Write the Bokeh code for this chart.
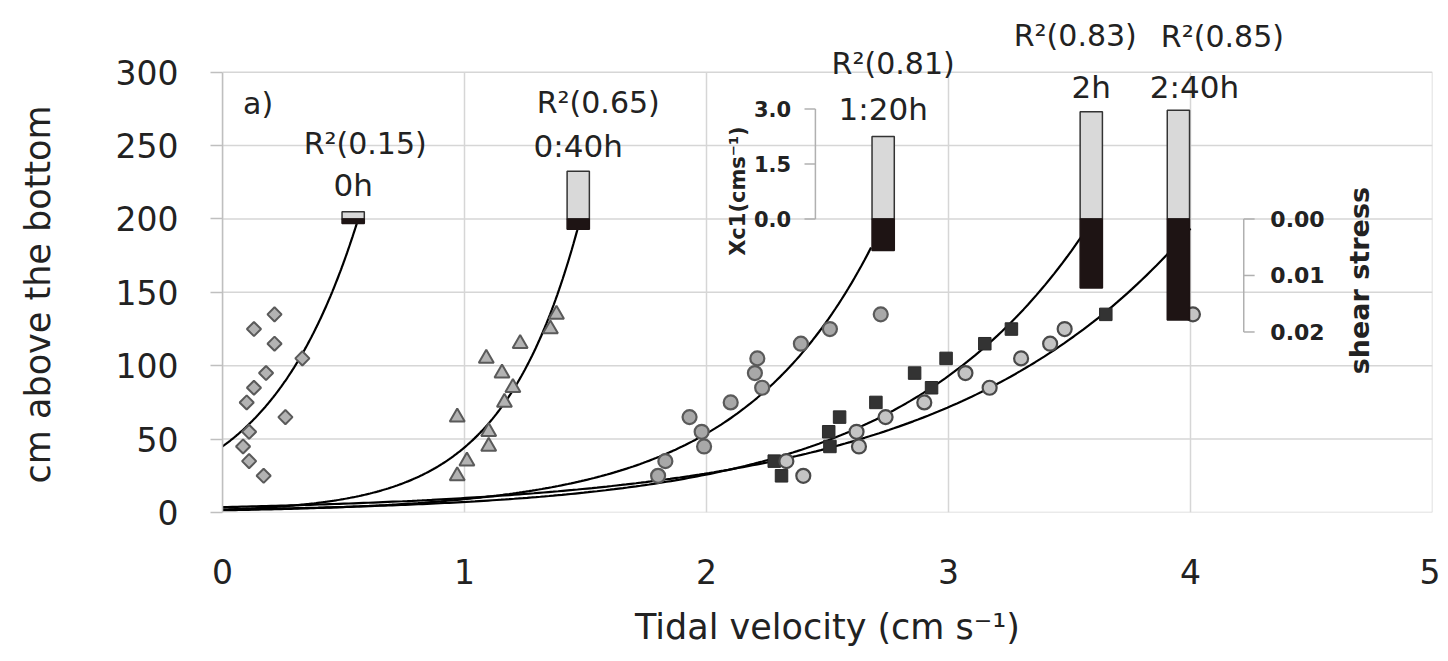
import numpy as np
from bokeh.plotting import figure
from bokeh.models import Range1d, FixedTicker, Label, Title
from bokeh.core.properties import value
from bokeh.embed import file_html
from bokeh.resources import INLINE

FONT = "DejaVu Sans"

# ---------------- data ----------------
heights = [25, 35, 45, 55, 65, 75, 85, 95, 105, 115, 125, 135]
v_0h = [0.17, 0.11, 0.085, 0.11, 0.26, 0.10, 0.13, 0.18, 0.33, 0.215, 0.13, 0.215]
v_040h = [0.97, 1.01, 1.10, 1.10, 0.97, 1.165, 1.20, 1.155, 1.09, 1.23, 1.355, 1.38]
v_120h = [1.80, 1.83, 1.99, 1.98, 1.93, 2.10, 2.23, 2.20, 2.21, 2.39, 2.51, 2.72]
v_2h = [2.31, 2.28, 2.51, 2.505, 2.55, 2.70, 2.93, 2.86, 2.99, 3.15, 3.26, 3.65]
v_240h = [2.40, 2.33, 2.63, 2.62, 2.74, 2.90, 3.17, 3.07, 3.30, 3.42, 3.48, 4.01]

times = ["0h", "0:40h", "1:20h", "2h", "2:40h"]
r2_labels = ["R\u00b2(0.15)", "R\u00b2(0.65)", "R\u00b2(0.81)", "R\u00b2(0.83)", "R\u00b2(0.85)"]
# exponential trendlines y = a*exp(b*x)
fit_a = [45.0, 1.9, 1.53, 2.0, 3.66]
fit_b = [2.66, 3.15, 1.78, 1.28, 0.992]
fit_xmax = [0.56, 1.48, 2.68, 3.58, 4.00]

# inset bars
bar_x = [0.54, 1.47, 2.73, 3.59, 3.95]
xc1 = [0.2, 1.3, 2.25, 2.92, 2.96]                 # Xc1 (cm s-1)
shear = [0.0008, 0.0018, 0.0056, 0.0122, 0.0179]   # shear stress
xc1_ticks = [0.0, 1.5, 3.0]
xc1_tick_labels = ["0.0", "1.5", "3.0"]
shear_ticks = [0.00, 0.01, 0.02]
shear_tick_labels = ["0.00", "0.01", "0.02"]

x_ticks = [0, 1, 2, 3, 4, 5]
y_ticks = [0, 50, 100, 150, 200, 250, 300]

# inset scales (data units per unit)
BASE = 200.0
XC1_SCALE = 25.0
SHEAR_SCALE = 3850.0

GRID = "#d6d6d6"
TXT = "#222222"

# ---------------- figure ----------------
p = figure(width=1440, height=655, x_range=Range1d(0, 5), y_range=Range1d(0, 340),
           output_backend="svg", toolbar_location=None,
           min_border_left=222, min_border_right=8, min_border_top=13, min_border_bottom=143)
p.outline_line_color = None
p.background_fill_color = "white"
p.xgrid.grid_line_color = None
p.ygrid.grid_line_color = None

# grid lines limited to the 0..300 data area
p.segment(x0=x_ticks, y0=[y_ticks[0]] * len(x_ticks), x1=x_ticks, y1=[y_ticks[-1]] * len(x_ticks),
          line_color=GRID, line_width=1.5)
p.segment(x0=[x_ticks[0]] * len(y_ticks), y0=y_ticks, x1=[x_ticks[-1]] * len(y_ticks), y1=y_ticks,
          line_color=GRID, line_width=1.5)

xa = p.xaxis[0]
xa.ticker = FixedTicker(ticks=x_ticks)
xa.axis_line_color = None
xa.major_tick_line_color = None
xa.minor_tick_line_color = None
xa.major_label_text_font = FONT
xa.major_label_text_font_size = "33px"
xa.major_label_text_color = TXT
xa.major_label_standoff = 40
xa.axis_label = "Tidal velocity (cm s\u207b\u00b9)"
xa.axis_label_text_font = FONT
xa.axis_label_text_font_size = "35px"
xa.axis_label_text_font_style = "normal"
xa.axis_label_text_color = TXT
xa.axis_label_standoff = 20

ya = p.yaxis[0]
ya.bounds = (0, 300)
ya.ticker = FixedTicker(ticks=y_ticks)
ya.axis_line_color = "#bfbfbf"
ya.axis_line_width = 1.5
ya.major_tick_line_color = "#bfbfbf"
ya.major_tick_line_width = 1.5
ya.major_tick_out = 12
ya.major_tick_in = 0
ya.minor_tick_line_color = None
ya.major_label_text_font = FONT
ya.major_label_text_font_size = "33px"
ya.major_label_text_color = TXT
ya.major_label_standoff = 32
# blank spacer label to push the y title outward
ya.axis_label = " "
ya.axis_label_text_font_size = "10px"
ya.axis_label_standoff = 27

# y-axis title, placed along the 0..300 part of the frame
p.add_layout(Title(text="cm above the bottom", align="left", offset=29,
                   text_font=FONT, text_font_size="35px", text_font_style="normal",
                   text_color=TXT, standoff=28), "left")

# ---------------- trendlines ----------------
for a, b, xm in zip(fit_a, fit_b, fit_xmax):
    xs = np.linspace(0, xm, 200)
    p.line(xs, a * np.exp(b * xs), line_color="black", line_width=2.2)

# ---------------- scatter ----------------
p.scatter(v_0h, heights, marker="square", angle=np.pi / 4, size=10,
          fill_color="#b3b3b3", line_color="#5a5a5a", line_width=2)
p.scatter(v_040h, heights, marker="triangle", size=15,
          fill_color="#b3b3b3", line_color="#5a5a5a", line_width=2)
p.scatter(v_120h, heights, marker="circle", size=14,
          fill_color="#a8a8a8", line_color="#5a5a5a", line_width=2.2)
p.scatter(v_2h, heights, marker="square", size=12.5,
          fill_color="#333333", line_color="#2a2a2a", line_width=1)
p.scatter(v_240h, heights, marker="circle", size=14,
          fill_color="#c4c4c4", line_color="#4a4a4a", line_width=2.2)

# ---------------- inset bars ----------------
bar_w = 0.092
xc1_top = [BASE + v * XC1_SCALE for v in xc1]
shear_bot = [BASE - v * SHEAR_SCALE for v in shear]
p.vbar(x=bar_x, width=bar_w, bottom=BASE, top=xc1_top,
       fill_color="#d9d9d9", line_color="#333333", line_width=1.5)
p.vbar(x=bar_x, width=bar_w, bottom=shear_bot, top=BASE,
       fill_color="#1e1414", line_color="#1e1414", line_width=1.5)

# Xc1 inset axis
AX1 = 2.45
tick_len = 0.045
xc1_y = [BASE + t * XC1_SCALE for t in xc1_ticks]
p.segment(x0=[AX1], y0=[xc1_y[0]], x1=[AX1], y1=[xc1_y[-1]], line_color="#b0b0b0", line_width=1.5)
p.segment(x0=[AX1 - tick_len] * len(xc1_y), y0=xc1_y, x1=[AX1] * len(xc1_y), y1=xc1_y,
          line_color="#b0b0b0", line_width=1.5)
p.text(x=[AX1 - 0.1] * len(xc1_y), y=xc1_y, text=xc1_tick_labels,
       text_font=value(FONT), text_font_size="21px", text_font_style="bold",
       text_align="right", text_baseline="middle", text_color=TXT)
p.text(x=[2.13], y=[219], text=["Xc1(cms\u207b\u00b9)"], angle=np.pi / 2,
       text_font=value(FONT), text_font_size="21px", text_font_style="bold",
       text_align="center", text_baseline="middle", text_color=TXT)

# shear stress inset axis
AX2 = 4.22
sh_y = [BASE - t * SHEAR_SCALE for t in shear_ticks]
p.segment(x0=[AX2], y0=[sh_y[0]], x1=[AX2], y1=[sh_y[-1]], line_color="#b0b0b0", line_width=1.5)
p.segment(x0=[AX2] * len(sh_y), y0=sh_y, x1=[AX2 + tick_len] * len(sh_y), y1=sh_y,
          line_color="#b0b0b0", line_width=1.5)
p.text(x=[AX2 + 0.11] * len(sh_y), y=sh_y, text=shear_tick_labels,
       text_font=value(FONT), text_font_size="22px", text_font_style="bold",
       text_align="left", text_baseline="middle", text_color=TXT)
p.text(x=[4.70], y=[158], text=["shear stress"], angle=np.pi / 2,
       text_font=value(FONT), text_font_size="27px", text_font_style="bold",
       text_align="center", text_baseline="middle", text_color=TXT)

# panel letter
p.text(x=[0.085], y=[279], text=["a)"], text_font=value(FONT), text_font_size="30px",
       text_align="left", text_baseline="middle", text_color=TXT)

# ---------------- bar labels ----------------
time_dx = [0, 0, 0, 0, 16]
r2_dx = [12, 20, 10, -16, 44]
time_dy = [27, 25, 27, 25, 23]
r2_dy = [68, 69, 73, 76, 74]
for i in range(len(times)):
    p.add_layout(Label(x=bar_x[i], y=xc1_top[i], x_offset=time_dx[i], y_offset=time_dy[i],
                       text=times[i], text_font=FONT, text_font_size="31px",
                       text_align="center", text_baseline="alphabetic", text_color=TXT))
    p.add_layout(Label(x=bar_x[i], y=xc1_top[i], x_offset=r2_dx[i], y_offset=r2_dy[i],
                       text=r2_labels[i], text_font=FONT, text_font_size="30px",
                       text_align="center", text_baseline="alphabetic", text_color=TXT))

open("out.html", "w").write(file_html(p, INLINE))
